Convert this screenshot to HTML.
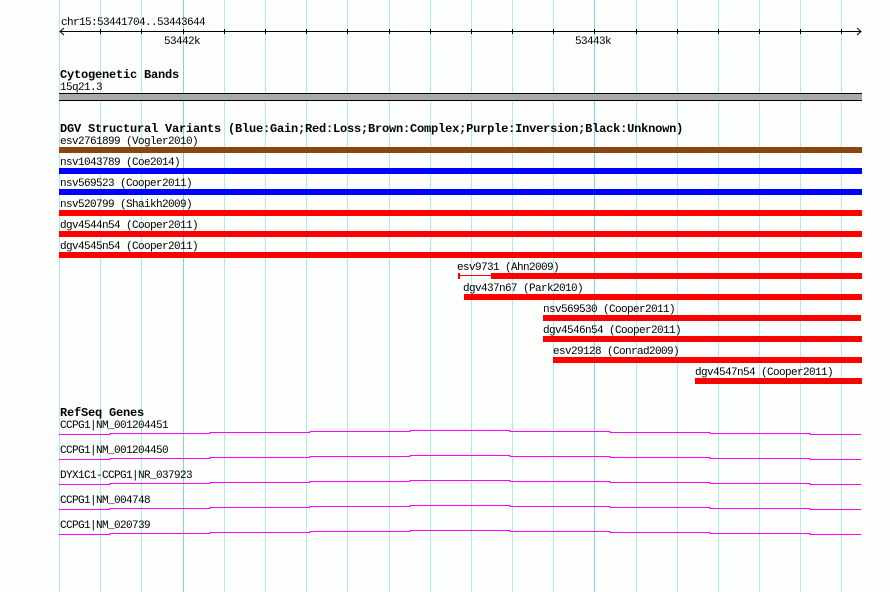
<!DOCTYPE html>
<html><head><meta charset="utf-8"><style>
html,body{margin:0;padding:0;background:#fff}
svg text{font-family:"Liberation Mono","DejaVu Sans Mono",monospace;font-size:11px;letter-spacing:-0.6px;fill:#000}
svg text.b{font-weight:bold;font-size:12px;letter-spacing:-0.2px}
</style></head><body>
<svg width="890" height="592" xmlns="http://www.w3.org/2000/svg">
<rect width="890" height="592" fill="#fcfefc"/>
<g stroke="#b0eaf0" stroke-width="1">
<line x1="59.5" y1="0" x2="59.5" y2="592"/><line x1="100.5" y1="0" x2="100.5" y2="592"/><line x1="141.5" y1="0" x2="141.5" y2="592"/>
<line x1="224.5" y1="0" x2="224.5" y2="592"/><line x1="265.5" y1="0" x2="265.5" y2="592"/><line x1="306.5" y1="0" x2="306.5" y2="592"/>
<line x1="347.5" y1="0" x2="347.5" y2="592"/><line x1="389.5" y1="0" x2="389.5" y2="592"/><line x1="430.5" y1="0" x2="430.5" y2="592"/>
<line x1="471.5" y1="0" x2="471.5" y2="592"/><line x1="512.5" y1="0" x2="512.5" y2="592"/><line x1="553.5" y1="0" x2="553.5" y2="592"/>
<line x1="636.5" y1="0" x2="636.5" y2="592"/><line x1="677.5" y1="0" x2="677.5" y2="592"/><line x1="718.5" y1="0" x2="718.5" y2="592"/>
<line x1="759.5" y1="0" x2="759.5" y2="592"/><line x1="800.5" y1="0" x2="800.5" y2="592"/><line x1="841.5" y1="0" x2="841.5" y2="592"/>
</g>
<g stroke="#88cce8" stroke-width="1">
<line x1="183.5" y1="0" x2="183.5" y2="592"/><line x1="594.5" y1="0" x2="594.5" y2="592"/>
</g>
<text x="61" y="25">chr15:53441704..53443644</text>
<g stroke="#000" stroke-width="1">
<line x1="60" y1="31.5" x2="861" y2="31.5"/>
<polyline points="64,28 60,31.5 64,35" fill="none"/>
<polyline points="857,28 861,31.5 857,35" fill="none"/>
<line x1="100.5" y1="29" x2="100.5" y2="34"/><line x1="141.5" y1="29" x2="141.5" y2="34"/><line x1="183.5" y1="29" x2="183.5" y2="34"/>
<line x1="224.5" y1="29" x2="224.5" y2="34"/><line x1="265.5" y1="29" x2="265.5" y2="34"/><line x1="306.5" y1="29" x2="306.5" y2="34"/>
<line x1="347.5" y1="29" x2="347.5" y2="34"/><line x1="389.5" y1="29" x2="389.5" y2="34"/><line x1="430.5" y1="29" x2="430.5" y2="34"/>
<line x1="471.5" y1="29" x2="471.5" y2="34"/><line x1="512.5" y1="29" x2="512.5" y2="34"/><line x1="553.5" y1="29" x2="553.5" y2="34"/>
<line x1="594.5" y1="29" x2="594.5" y2="34"/><line x1="636.5" y1="29" x2="636.5" y2="34"/><line x1="677.5" y1="29" x2="677.5" y2="34"/>
<line x1="718.5" y1="29" x2="718.5" y2="34"/><line x1="759.5" y1="29" x2="759.5" y2="34"/><line x1="800.5" y1="29" x2="800.5" y2="34"/>
<line x1="841.5" y1="29" x2="841.5" y2="34"/>
</g>
<text x="164" y="44">53442k</text>
<text x="575" y="44">53443k</text>
<text class="b" x="60" y="78">Cytogenetic Bands</text>
<text x="60" y="90">15q21.3</text>
<rect x="59" y="93" width="803" height="7" fill="#aaa8aa"/>
<line x1="59" y1="93.5" x2="862" y2="93.5" stroke="#000"/>
<line x1="59" y1="100.5" x2="862" y2="100.5" stroke="#000"/>
<text class="b" x="60" y="132">DGV Structural Variants (Blue:Gain;Red:Loss;Brown:Complex;Purple:Inversion;Black:Unknown)</text>
<text x="60" y="144">esv2761899 (Vogler2010)</text>
<rect x="59" y="147" width="803" height="6" fill="#8b4513"/>
<text x="60" y="165">nsv1043789 (Coe2014)</text>
<rect x="59" y="168" width="803" height="6" fill="#0000ff"/>
<text x="60" y="186">nsv569523 (Cooper2011)</text>
<rect x="59" y="189" width="803" height="6" fill="#0000ff"/>
<text x="60" y="207">nsv520799 (Shaikh2009)</text>
<rect x="59" y="210" width="803" height="6" fill="#ff0000"/>
<text x="60" y="228">dgv4544n54 (Cooper2011)</text>
<rect x="59" y="231" width="803" height="6" fill="#ff0000"/>
<text x="60" y="249">dgv4545n54 (Cooper2011)</text>
<rect x="59" y="252" width="803" height="6" fill="#ff0000"/>
<text x="457" y="270">esv9731 (Ahn2009)</text>
<rect x="458" y="273" width="2" height="6" fill="#ff0000"/>
<rect x="458" y="275" width="33" height="1" fill="#ff0000"/>
<rect x="491" y="273" width="371" height="6" fill="#ff0000"/>
<text x="463" y="291">dgv437n67 (Park2010)</text>
<rect x="464" y="294" width="398" height="6" fill="#ff0000"/>
<text x="543" y="312">nsv569530 (Cooper2011)</text>
<rect x="543" y="315" width="318" height="6" fill="#ff0000"/>
<text x="543" y="333">dgv4546n54 (Cooper2011)</text>
<rect x="543" y="336" width="319" height="6" fill="#ff0000"/>
<text x="553" y="354">esv29128 (Conrad2009)</text>
<rect x="553" y="357" width="309" height="6" fill="#ff0000"/>
<text x="695" y="375">dgv4547n54 (Cooper2011)</text>
<rect x="695" y="378" width="167" height="6" fill="#ff0000"/>
<text class="b" x="60" y="416">RefSeq Genes</text>
<g fill="none" stroke="#ff00ff" stroke-width="1">
<polyline points="59,434.5 110,434.5 110,433.5 210,433.5 210,432.5 310,432.5 310,431.5 410,431.5 410,430.5 510,430.5 510,431.5 610,431.5 610,432.5 710,432.5 710,433.5 810,433.5 810,434.5 861,434.5"/>
<polyline points="59,459.5 110,459.5 110,458.5 210,458.5 210,457.5 310,457.5 310,456.5 410,456.5 410,455.5 510,455.5 510,456.5 610,456.5 610,457.5 710,457.5 710,458.5 810,458.5 810,459.5 861,459.5"/>
<polyline points="59,484.5 110,484.5 110,483.5 210,483.5 210,482.5 310,482.5 310,481.5 410,481.5 410,480.5 510,480.5 510,481.5 610,481.5 610,482.5 710,482.5 710,483.5 810,483.5 810,484.5 861,484.5"/>
<polyline points="59,509.5 110,509.5 110,508.5 210,508.5 210,507.5 310,507.5 310,506.5 410,506.5 410,505.5 510,505.5 510,506.5 610,506.5 610,507.5 710,507.5 710,508.5 810,508.5 810,509.5 861,509.5"/>
<polyline points="59,534.5 110,534.5 110,533.5 210,533.5 210,532.5 310,532.5 310,531.5 410,531.5 410,530.5 510,530.5 510,531.5 610,531.5 610,532.5 710,532.5 710,533.5 810,533.5 810,534.5 861,534.5"/>
</g>
<text x="60" y="428">CCPG1|NM_001204451</text>
<text x="60" y="453">CCPG1|NM_001204450</text>
<text x="60" y="478">DYX1C1-CCPG1|NR_037923</text>
<text x="60" y="503">CCPG1|NM_004748</text>
<text x="60" y="528">CCPG1|NM_020739</text>
</svg>
</body></html>
